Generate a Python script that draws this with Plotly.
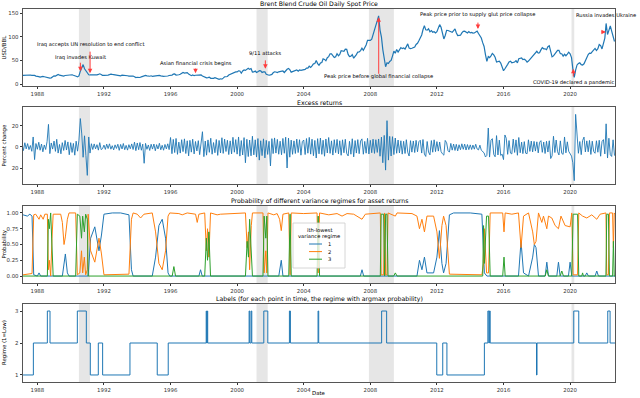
import pandas as pd
import plotly.graph_objects as go
from plotly.subplots import make_subplots

BLUE, ORANGE, GREEN = "#1f77b4", "#ff7f0e", "#2ca02c"
FONT = "DejaVu Sans"
RED = "#ff3b3b"

# Monthly Brent spot price (USD/BBL), Feb 1987 - Sep 2022
price_start = "1987-02-01"
price = [
    18.0, 18.3, 18.6, 18.6, 18.9, 19.9, 19.0, 18.4, 18.8, 18.2, 16.7,
    16.9, 15.6, 14.7, 16.2, 16.2, 15.4, 14.6, 14.9, 13.4, 12.5, 13.0, 15.4,
    17.2, 16.9, 18.7, 20.3, 18.6, 17.8, 17.6, 16.9, 18.0, 18.6, 18.5, 19.8,
    20.5, 19.6, 18.4, 16.6, 16.4, 15.1, 17.2, 27.2, 35.0, 41.0, 32.3, 27.3,
    23.6, 19.6, 19.1, 19.2, 19.1, 18.2, 19.3, 19.5, 20.2, 21.6, 20.3, 18.2,
    18.1, 18.3, 17.5, 18.8, 19.8, 21.0, 20.2, 19.7, 20.2, 20.1, 19.1, 18.2,
    17.4, 18.6, 18.7, 18.6, 18.4, 17.5, 16.7, 16.9, 16.3, 16.9, 15.4, 13.6,
    14.3, 13.8, 13.8, 15.2, 16.3, 17.2, 18.2, 17.3, 16.1, 16.4, 17.4, 16.0,
    16.5, 17.2, 17.1, 18.4, 18.3, 17.3, 15.9, 16.1, 16.4, 16.1, 16.9, 18.0,
    18.5, 18.6, 20.8, 21.3, 19.0, 18.6, 19.6, 20.5, 22.6, 24.5, 23.1, 24.0,
    24.0, 20.9, 19.2, 17.6, 19.1, 17.6, 18.5, 18.6, 18.5, 20.1, 19.1, 17.1,
    15.3, 14.1, 13.1, 13.4, 14.4, 12.1, 12.0, 11.9, 13.4, 12.6, 11.0, 9.8,
    11.1, 10.3, 12.5, 15.3, 15.3, 15.9, 19.0, 20.2, 22.6, 22.1, 24.6, 25.5,
    25.5, 27.8, 27.5, 22.8, 27.6, 29.8, 28.7, 30.5, 33.1, 30.9, 32.6, 25.3,
    25.6, 27.5, 24.5, 25.7, 28.4, 27.7, 24.5, 25.7, 25.6, 20.5, 18.9, 18.6,
    19.4, 20.3, 23.7, 25.7, 25.4, 24.1, 25.7, 26.4, 28.4, 27.5, 24.3, 28.0,
    31.2, 32.8, 30.4, 25.0, 25.8, 27.6, 28.4, 29.8, 27.1, 29.6, 28.8, 29.8,
    31.3, 30.9, 33.8, 33.4, 37.6, 35.2, 38.2, 42.7, 43.2, 49.8, 43.1, 39.7,
    44.3, 45.5, 53.1, 51.9, 49.0, 55.6, 57.9, 63.8, 63.7, 59.0, 56.0, 57.6,
    63.9, 59.7, 62.3, 70.4, 70.0, 68.9, 73.7, 73.2, 62.5, 58.0, 58.9, 62.2,
    54.6, 58.0, 62.1, 67.5, 67.9, 70.6, 75.8, 71.2, 77.0, 82.5, 92.1, 91.5,
    92.0, 94.8, 103.3, 110.0, 123.9, 133.1, 143.9, 113.9, 99.1, 72.8, 53.2, 36.5,
    44.9, 43.4, 47.7, 49.9, 59.0, 69.6, 65.0, 73.1, 67.7, 73.2, 77.0, 74.7,
    76.2, 73.8, 78.8, 84.8, 75.9, 74.8, 75.6, 77.1, 78.2, 83.5, 86.1, 91.5,
    96.5, 103.7, 114.6, 123.3, 114.5, 113.9, 116.7, 110.2, 112.8, 109.5, 110.5, 107.9,
    110.7, 119.3, 125.5, 119.8, 110.3, 95.2, 102.6, 113.4, 113.0, 111.5, 109.5, 109.2,
    112.9, 116.5, 108.5, 102.3, 102.6, 102.9, 107.9, 111.3, 111.6, 109.1, 107.8, 110.8,
    108.1, 108.9, 107.5, 107.8, 109.5, 111.8, 106.8, 101.6, 97.1, 87.4, 79.4, 62.3,
    47.8, 58.1, 55.9, 59.5, 64.6, 61.5, 56.6, 46.5, 47.6, 48.4, 44.3, 38.0,
    28.0, 32.2, 38.2, 41.6, 46.7, 48.3, 44.9, 45.8, 46.6, 49.5, 44.7, 53.3,
    54.6, 54.9, 51.6, 52.3, 50.3, 46.4, 48.5, 51.7, 56.2, 57.5, 62.7, 64.4,
    69.1, 65.3, 66.0, 72.1, 76.9, 74.4, 74.3, 72.5, 78.9, 81.0, 64.8, 57.4,
    59.4, 64.0, 66.1, 71.2, 71.3, 64.2, 63.9, 59.0, 62.8, 59.7, 63.2, 67.3,
    63.6, 55.7, 32.0, 14.0, 29.4, 40.3, 43.2, 44.7, 40.9, 40.2, 42.7, 49.9,
    54.8, 62.3, 65.4, 64.8, 68.5, 73.2, 75.2, 70.8, 74.5, 83.5, 81.1, 74.2,
    86.5, 97.1, 128.0, 104.6, 113.3, 122.7, 111.9, 100.5, 89.8,
]

# Excess returns (percent change), same months
returns = [
    2.1, -3.4, 4.0, -1.8, 3.2, -2.5, 1.4, -4.1, 9.5, -12.0, 3.3,
    -2.2, 4.5, -3.1, 2.8, -4.6, 1.9, -2.4, 5.1, 21.5, -6.3, 3.8, -2.0,
    5.6, -4.2, 7.3, -5.8, 2.4, -6.5, 4.1, -3.3, 6.2, -2.9, 4.8, -7.4,
    4.1, -5.2, 3.4, -7.8, 5.5, -4.0, 6.5, 27.0, 12.4, -9.8, 10.6, -8.2,
    -27.0, 9.5, -5.8, 3.1, -2.4, 2.9, -1.8, 2.2, -3.0, 4.1, -2.5, -1.6,
    1.8, -2.3, 2.7, -1.5, 3.0, -2.1, 1.2, -2.8, 2.0, -1.4, 2.6, -3.2,
    2.4, -1.9, 3.3, -2.6, 1.5, -3.0, 2.2, -1.7, 2.9, -2.4, 4.6, -3.5,
    3.8, -2.6, 4.2, -3.1, 2.7, -15.5, 3.4, -2.2, 1.9, -3.3, 2.6, -2.0,
    2.8, -3.6, 2.2, -1.9, 3.5, -2.7, 1.6, -3.1, 2.4, -1.8, 3.0, -2.5,
    9.0, -6.4, 7.2, -5.3, 8.1, -7.0, 4.6, -5.8, 6.9, -4.4, 7.7, -6.2,
    5.9, -8.5, 6.3, -4.9, 7.4, -6.6, 5.2, -3.8, 6.0, -7.3, 4.5, 14.5,
    -9.2, 5.6, -7.8, 6.7, -5.1, 8.3, -6.9, 4.2, -5.5, 7.1, -8.0, 6.2,
    -5.7, 8.8, -6.1, 7.5, -4.3, 6.4, -7.2, 5.8, -6.6, 9.2, -5.0, 7.0,
    -6.8, 9.5, -8.7, 6.1, -7.6, 8.9, -15.0, 7.3, -9.1, 6.6, -8.4, 10.2,
    -7.5, 6.8, -9.6, 8.0, -12.5, 5.9, -8.2, 7.7, -10.4, 6.3, -7.1, 5.4,
    -18.0, 7.9, -6.3, 8.6, -5.8, 7.2, -6.9, 5.5, -7.4, 8.1, -6.0, 9.3,
    -20.0, 8.4, -9.7, 6.5, -7.0, 5.8, -6.2, 7.5, -5.3, 6.9, -7.8, 5.1,
    6.6, -7.2, 8.0, -5.9, 9.1, -6.8, 7.4, -8.3, 6.2, -10.5, 7.9, -6.5,
    8.5, -7.0, 6.4, -8.8, 7.6, -5.7, 9.0, -6.1, 5.8, -7.7, 6.9, -5.4,
    7.2, -6.6, 5.9, -7.9, 6.8, -5.5, 7.3, -6.2, -8.5, 5.4, -6.9, 7.8,
    -9.4, 6.1, -5.8, 7.0, -6.4, 5.6, 7.7, -6.9, 5.3, -5.9, 8.2, -6.7,
    6.3, -5.5, 7.4, -6.1, 6.9, -5.2, 7.6, -8.8, 9.4, -15.0, 11.0, -22.0,
    25.0, -12.5, 10.1, -8.6, 9.8, -7.2, 8.5, -6.0, 6.6, -5.7, 5.9, -6.8,
    5.4, -6.2, 6.9, -5.1, -8.6, 6.0, -4.9, 5.7, -5.3, 6.3, -4.6, 5.0,
    6.4, -5.8, 7.1, -6.7, -9.0, 5.2, -4.8, -7.5, 6.1, -5.0, 6.8, -4.4,
    5.1, -3.9, 4.7, -4.3, -6.5, -7.8, 6.2, 4.0, -3.6, -4.9, 3.4, -3.0,
    2.8, -3.3, 2.5, -3.7, 2.1, -2.6, 3.0, -2.2, 2.7, -2.9, 2.3, -2.5,
    2.0, -2.4, 1.8, -2.1, 2.6, -1.9, -2.8, 1.7, -3.1, -4.4, -5.6, -9.5,
    -8.0, 18.0, -9.6, 6.4, 7.9, -7.1, -9.3, 10.8, -7.6, 6.5, -8.1, -6.8,
    -12.0, 11.4, 8.3, -7.0, 6.1, -5.8, -6.6, 7.5, -5.2, 6.7, -7.9, 9.0,
    -5.5, 4.6, -6.3, 5.1, -5.9, -6.4, 6.8, -4.2, 5.6, -4.7, 5.3, -3.9,
    4.9, -5.6, 4.4, 6.0, -5.1, 4.7, -6.2, 5.4, -4.8, 5.9, -11.0, -8.4,
    10.2, -5.3, 6.6, -4.5, -7.6, 5.8, -6.1, -7.0, 9.5, -5.6, 4.9, -4.1,
    -6.4, -8.7, -15.0, -32.0, 31.0, 12.5, -6.0, 5.2, -7.3, 6.1, 9.4, -4.7,
    5.8, -4.6, 6.2, -7.1, 5.5, -4.3, -6.0, 5.9, -5.0, 6.4, -8.8, 5.1,
    7.0, -6.6, 22.0, -10.5, 8.3, -7.4, -9.0, 6.8, -8.2,
]

# Regime probabilities, read as (decimal year, probability) keypoints
p1_t = [1987.14, 1987.4, 1987.55, 1987.68, 1987.78, 1988.0, 1988.1, 1988.2, 1989.5, 1989.68,
        1989.8, 1989.9, 1991.05, 1991.2, 1991.45, 1991.7, 1991.85, 1992.0, 1992.5, 1993.0,
        1993.5, 1993.65, 1993.75, 1994.9, 1995.1, 1995.3, 1995.5, 1995.7, 1995.85, 1995.95,
        1997.7, 1997.8, 1997.9, 2002.5, 2002.65, 2002.75, 2007.4, 2007.5, 2007.6, 2010.8,
        2010.95, 2011.1, 2011.25, 2011.4, 2011.8, 2012.0, 2012.15, 2012.3, 2012.4, 2012.55,
        2012.75, 2013.0, 2014.0, 2014.7, 2014.85, 2015.0, 2016.9, 2017.05, 2017.2, 2017.5,
        2017.75, 2017.85, 2017.95, 2018.1, 2018.5, 2018.6, 2018.7, 2019.2, 2019.3, 2019.4,
        2019.9, 2020.0, 2020.1, 2020.9, 2021.0, 2021.1, 2021.5, 2021.6, 2021.7, 2022.7]
p1 = [0.97, 0.95, 0.98, 0.95, 0.02, 0.0, 0.05, 0.0, 0.0, 0.35,
      0.05, 0.0, 0.0, 0.6, 0.78, 0.4, 0.65, 0.98, 1.0, 1.0,
      0.97, 0.1, 0.0, 0.0, 0.3, 0.8, 0.9, 0.6, 0.05, 0.0,
      0.0, 0.1, 0.0, 0.0, 0.25, 0.0, 0.0, 0.1, 0.0, 0.0,
      0.25, 0.1, 0.3, 0.05, 0.05, 0.3, 0.72, 0.2, 0.05, 0.2,
      0.97, 1.0, 1.0, 0.98, 0.05, 0.0, 0.0, 0.55, 0.05, 0.0,
      0.3, 0.5, 0.45, 0.0, 0.0, 0.22, 0.0, 0.0, 0.22, 0.0,
      0.0, 0.22, 0.0, 0.0, 0.05, 0.0, 0.0, 0.08, 0.0, 0.0]

p2_t = [1987.14, 1987.68, 1987.78, 1987.9, 1988.1, 1988.2, 1988.35, 1988.45, 1988.6, 1988.66,
        1988.72, 1988.8, 1988.88, 1988.95, 1989.4, 1989.5, 1989.6, 1989.68, 1989.8, 1989.9,
        1990.3, 1990.4, 1990.55, 1990.65, 1990.72, 1990.82, 1990.9, 1991.0, 1991.05, 1991.2,
        1991.45, 1991.7, 1991.85, 1992.0, 1993.5, 1993.65, 1993.75, 1994.0, 1994.2, 1994.4,
        1994.9, 1995.1, 1995.3, 1995.5, 1995.7, 1995.85, 1995.95, 1996.5, 1996.7, 1997.0,
        1997.5, 1997.6, 1997.7, 1998.05, 1998.15, 1998.22, 1998.3, 1998.4, 1998.8, 1999.0,
        2000.5, 2000.6, 2000.68, 2000.75, 2000.85, 2000.92, 2001.55, 2001.62, 2001.72, 2001.78,
        2001.85, 2002.2, 2002.4, 2002.55, 2002.65, 2002.75, 2003.1, 2003.18, 2003.25, 2004.0,
        2004.8, 2004.87, 2004.95, 2005.5, 2006.0, 2006.3, 2006.6, 2007.0, 2007.5, 2007.7,
        2008.6, 2008.65, 2008.8, 2008.86, 2008.92, 2009.0, 2009.06, 2009.5, 2009.6, 2010.5,
        2010.8, 2010.95, 2011.1, 2011.25, 2011.4, 2011.8, 2012.0, 2012.15, 2012.3, 2012.4,
        2012.55, 2012.75, 2014.7, 2014.8, 2014.85, 2014.98, 2015.1, 2015.2, 2015.95, 2016.03,
        2016.1, 2016.5, 2016.9, 2017.05, 2017.2, 2017.5, 2017.75, 2017.85, 2017.95, 2018.1,
        2018.3, 2018.4, 2018.6, 2018.7, 2018.9, 2019.1, 2019.3, 2019.45, 2019.7, 2020.0,
        2020.1, 2020.18, 2020.45, 2020.52, 2020.75, 2021.0, 2021.3, 2021.6, 2021.8, 2022.15,
        2022.2, 2022.3, 2022.36, 2022.55, 2022.6, 2022.65, 2022.7]
p2 = [0.02, 0.04, 0.97, 0.98, 0.9, 0.97, 0.9, 0.98, 0.98, 0.1,
      0.25, 0.0, 0.6, 0.98, 0.98, 0.85, 0.5, 0.62, 0.9, 1.0,
      1.0, 0.02, 0.05, 0.4, 0.05, 0.3, 0.02, 0.1, 0.98, 0.4,
      0.22, 0.6, 0.35, 0.02, 0.03, 0.9, 1.0, 0.98, 0.92, 0.98,
      1.0, 0.7, 0.2, 0.1, 0.4, 0.95, 1.0, 0.99, 0.97, 1.0,
      0.98, 0.85, 0.98, 1.0, 0.4, 0.75, 0.3, 1.0, 0.97, 0.98,
      1.0, 0.45, 0.7, 0.1, 0.8, 1.0, 1.0, 0.05, 0.4, 0.05,
      1.0, 0.97, 0.99, 0.9, 0.72, 0.98, 1.0, 0.02, 1.0, 0.99,
      1.0, 0.05, 1.0, 0.97, 0.99, 0.95, 0.99, 0.98, 0.9, 0.98,
      1.0, 0.02, 0.02, 1.0, 0.02, 0.02, 1.0, 0.95, 1.0, 0.99,
      0.95, 0.75, 0.9, 0.7, 0.95, 0.95, 0.7, 0.28, 0.8, 0.95,
      0.8, 0.03, 0.02, 0.2, 0.75, 0.05, 0.05, 1.0, 1.0, 0.7,
      1.0, 0.98, 1.0, 0.45, 0.95, 1.0, 0.7, 0.5, 0.55, 1.0,
      0.85, 0.95, 0.75, 0.95, 0.92, 0.8, 0.75, 0.95, 0.8, 0.78,
      1.0, 0.02, 0.02, 1.0, 0.95, 0.92, 0.97, 0.9, 0.98, 1.0,
      0.02, 0.02, 1.0, 1.0, 0.45, 1.0, 0.98]

p3_t = [1987.14, 1988.6, 1988.66, 1988.72, 1988.8, 1988.88, 1988.95, 1990.3, 1990.4, 1990.55,
        1990.65, 1990.72, 1990.82, 1990.9, 1991.0, 1991.05, 1996.1, 1996.2, 1996.3, 1998.05,
        1998.15, 1998.22, 1998.3, 1998.4, 2000.5, 2000.6, 2000.68, 2000.75, 2000.85, 2000.92,
        2001.55, 2001.62, 2001.72, 2001.78, 2001.85, 2003.1, 2003.18, 2003.25, 2004.8, 2004.87,
        2004.95, 2008.6, 2008.65, 2008.8, 2008.86, 2008.92, 2009.0, 2009.06, 2009.4, 2009.5,
        2009.6, 2014.75, 2014.8, 2014.85, 2014.98, 2015.1, 2015.2, 2015.95, 2016.03, 2016.1,
        2018.5, 2018.6, 2018.7, 2019.4, 2019.5, 2019.6, 2020.1, 2020.18, 2020.45, 2020.52,
        2020.7, 2020.75, 2020.8, 2022.15, 2022.2, 2022.3, 2022.36, 2022.55, 2022.6, 2022.65,
        2022.7]
p3 = [0.0, 0.0, 0.9, 0.75, 1.0, 0.4, 0.0, 0.0, 0.98, 0.95,
      0.6, 0.95, 0.7, 0.98, 0.9, 0.0, 0.0, 0.15, 0.0, 0.0,
      0.6, 0.25, 0.7, 0.0, 0.0, 0.55, 0.3, 0.9, 0.2, 0.0,
      0.0, 0.95, 0.6, 0.95, 0.0, 0.0, 0.98, 0.0, 0.0, 0.95,
      0.0, 0.0, 0.98, 0.98, 0.0, 0.98, 0.98, 0.0, 0.0, 0.05,
      0.0, 0.0, 0.8, 0.2, 0.95, 0.95, 0.0, 0.0, 0.3, 0.0,
      0.0, 0.1, 0.0, 0.0, 0.08, 0.0, 0.0, 0.98, 0.98, 0.0,
      0.0, 0.05, 0.0, 0.0, 0.98, 0.98, 0.0, 0.0, 0.55, 0.0,
      0.0]

# Argmax regime label, step changes (decimal year, regime)
regime_t = [1987.14, 1987.76, 1988.6, 1988.76, 1990.4, 1990.94, 1991.18, 1991.66, 1991.92, 1993.56,
            1995.2, 1995.86, 1998.14, 1998.17, 1998.2, 1998.23, 2000.72, 2000.76, 2000.84, 2000.88,
            2001.6, 2001.84, 2003.14, 2003.2, 2004.86, 2004.9, 2008.68, 2008.98, 2011.99, 2012.35,
            2012.6, 2014.85, 2015.06, 2015.12, 2015.15, 2015.2, 2017.98, 2018.01, 2020.22, 2020.52,
            2022.26, 2022.4, 2022.7]
regime = [1, 2, 3, 2, 3, 2, 1, 2, 1, 2,
          1, 2, 3, 2, 3, 2, 3, 2, 3, 2,
          3, 2, 3, 2, 3, 2, 3, 2, 1, 2,
          1, 2, 3, 2, 3, 2, 1, 2, 3, 2,
          3, 2, 2]

# Shaded periods (recessions)
shade_start = ["1990-07-01", "2001-03-01", "2007-12-01", "2020-02-01"]
shade_end = ["1991-03-01", "2001-11-01", "2009-06-01", "2020-04-01"]

# Event annotations: label, date, arrow head price, label price, arrow offset (px)
events = [
    ("Iraq invades Kuwait", "1990-08-02", 27, 57, (0, -10)),
    ("Iraq accepts UN resolution to end conflict", "1991-03-03", 23, 84.5, (0, -23)),
    ("Asian financial crisis begins", "1997-07-02", 23, 44, (0, -6)),
    ("9/11 attacks", "2001-09-11", 32, 65, (0, -10)),
    ("Peak price before global financial collapse", "2008-07-03", 141, 15, (0, 58)),
    ("Peak price prior to supply glut price collapse", "2014-06-19", 116, 146, (0, -8)),
    ("COVID-19 declared a pandemic", "2020-03-11", 32, 4, (0, 9)),
    ("Russia invades Ukraine", "2022-02-24", 110, 146, (-6, 0)),
]

tick_years = [1988, 1992, 1996, 2000, 2004, 2008, 2012, 2016, 2020]
legend_names = ["1", "2", "3"]
legend_colors = [BLUE, ORANGE, GREEN]


def to_dates(years):
    out = []
    for y in years:
        base = int(y)
        out.append(pd.Timestamp(base, 1, 1) + pd.Timedelta(days=(y - base) * 365.25))
    return out


months = pd.date_range(price_start, periods=len(price), freq="MS")

fig = make_subplots(rows=4, cols=1)

fig.add_trace(go.Scatter(x=months, y=price, mode="lines", showlegend=False,
                         line=dict(color=BLUE, width=1.2)), row=1, col=1)
fig.add_trace(go.Scatter(x=months, y=returns, mode="lines", showlegend=False,
                         line=dict(color=BLUE, width=0.9)), row=2, col=1)
for name, t, p, c in [("1", p1_t, p1, BLUE), ("2", p2_t, p2, ORANGE), ("3", p3_t, p3, GREEN)]:
    fig.add_trace(go.Scatter(x=to_dates(t), y=p, mode="lines", name=name, showlegend=False,
                             line=dict(color=c, width=1)), row=3, col=1)
fig.add_trace(go.Scatter(x=to_dates(regime_t), y=regime, mode="lines", line_shape="hv",
                         showlegend=False, line=dict(color=BLUE, width=1)), row=4, col=1)

for s, e in zip(shade_start, shade_end):
    fig.add_vrect(x0=s, x1=e, row="all", col=1, fillcolor="rgba(128,128,128,0.2)",
                  line_width=0, layer="below")

# layout in pixels of the 640x398 window
W, H = 640, 398
x_dom = [23 / W, 615 / W]
panels = [(9, 86), (107, 184), (206, 283), (304, 382)]
y_ranges = [[-4.2, 158.5], [-35.2, 38], [-0.11, 1.11], [0.78, 3.22]]
y_ticks = [
    ([0, 50, 100, 150], ["0", "50", "100", "150"]),
    ([-20, 0, 20], ["20", "0", "20"]),
    ([0, 0.25, 0.5, 0.75, 1.0], ["0.00", "0.25", "0.50", "0.75", "1.00"]),
    ([1, 2, 3], ["1", "2", "3"]),
]
titles = [
    "Brent Blend Crude Oil Daily Spot Price",
    "Excess returns",
    "Probability of different variance regimes for asset returns",
    "Labels (for each point in time, the regime with argmax probability)",
]
y_titles = ["USD/BBL", "Percent change", "Probability", "Regime (1=Low)"]

axis_style = dict(showline=True, mirror=True, linecolor="#555", linewidth=0.8,
                  showgrid=False, zeroline=False, ticks="outside", ticklen=2.5,
                  tickwidth=0.8, tickcolor="#333", tickfont=dict(size=5.4, color="#333"))

annotations = []
for i, (top, bot) in enumerate(panels):
    n = i + 1
    fig.update_xaxes(row=n, col=1, domain=x_dom, type="date",
                     range=["1987-02-20", "2022-09-12"],
                     tickvals=[f"{y}-01-01" for y in tick_years],
                     ticktext=[str(y) for y in tick_years], **axis_style)
    fig.update_yaxes(row=n, col=1, domain=[1 - bot / H, 1 - top / H],
                     range=y_ranges[i], tickvals=y_ticks[i][0], ticktext=y_ticks[i][1],
                     **axis_style)
    annotations.append(dict(text=titles[i], xref="paper", yref="paper",
                            x=(x_dom[0] + x_dom[1]) / 2, y=1 - (top - 4.6) / H,
                            xanchor="center", yanchor="middle", showarrow=False,
                            borderpad=0, font=dict(size=6.2, color="black")))
    annotations.append(dict(text=y_titles[i], xref="paper", yref="paper",
                            x=4 / W, y=1 - (top + bot) / 2 / H, textangle=-90,
                            xanchor="center", yanchor="middle", showarrow=False,
                            font=dict(size=5.4, color="black")))

annotations.append(dict(text="Date", xref="paper", yref="paper", x=(x_dom[0] + x_dom[1]) / 2,
                        y=0, xanchor="center", yanchor="bottom", showarrow=False,
                        font=dict(size=5.4, color="black")))

for label, date, head, text_y, (ax, ay) in events:
    annotations.append(dict(text="", x=date, y=head, xref="x", yref="y",
                            showarrow=True, arrowhead=2, arrowsize=0.9, arrowwidth=1,
                            arrowcolor=RED, ax=ax, ay=ay, standoff=0))
    annotations.append(dict(text=label, x=date, y=text_y, xref="x", yref="y",
                            showarrow=False, xanchor="center", yanchor="middle",
                            font=dict(size=5.2, color="black")))

# matplotlib-style legend box drawn in the probability panel
shapes = [dict(type="rect", xref="paper", yref="paper", x0=293 / W, x1=345 / W,
               y0=1 - 268 / H, y1=1 - 223 / H, fillcolor="rgba(255,255,255,0.8)",
               line=dict(color="#cccccc", width=0.8), layer="above")]
for txt, py in [("ith-lowest", 229.5), ("variance regime", 236.5)]:
    annotations.append(dict(text=txt, xref="paper", yref="paper", x=319 / W, y=1 - py / H,
                            xanchor="center", yanchor="middle", showarrow=False,
                            font=dict(size=5.2, color="black")))
for k, (name, col) in enumerate(zip(legend_names, legend_colors)):
    py = 244 + k * 7.6
    shapes.append(dict(type="line", xref="paper", yref="paper", x0=309 / W, x1=322 / W,
                       y0=1 - py / H, y1=1 - py / H, line=dict(color=col, width=1),
                       layer="above"))
    annotations.append(dict(text=name, xref="paper", yref="paper", x=326 / W, y=1 - py / H,
                            xanchor="left", yanchor="middle", showarrow=False,
                            font=dict(size=5.2, color="black")))

fig.update_layout(
    width=W, height=H,
    margin=dict(l=0, r=0, t=0, b=0),
    paper_bgcolor="white", plot_bgcolor="white",
    font=dict(family=FONT, size=6, color="#222"),
    annotations=annotations,
    showlegend=False,
)
for s in shapes:
    fig.add_shape(**s)

fig.write_html("out.html", config={"displayModeBar": False},
               post_script="document.body.style.margin='0';")
